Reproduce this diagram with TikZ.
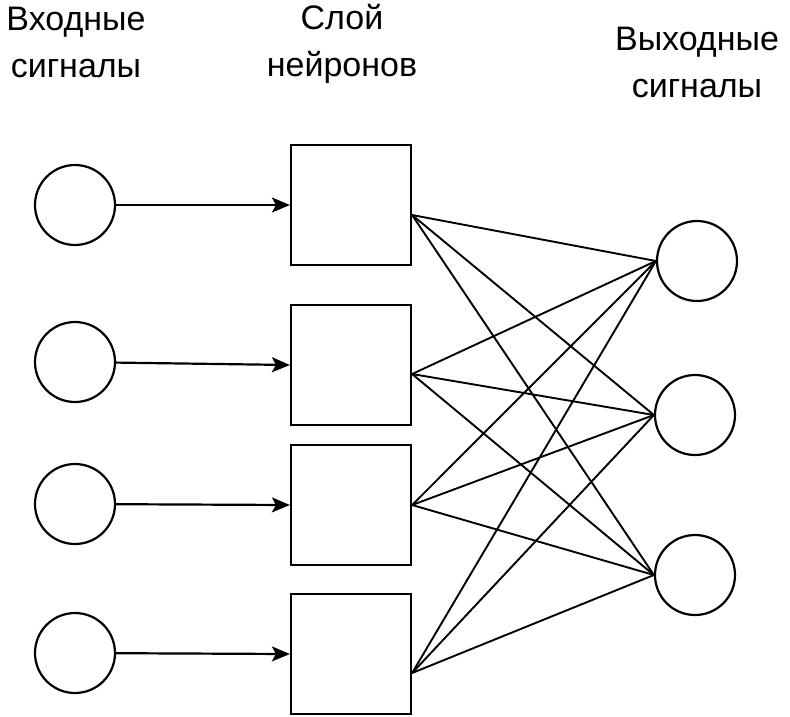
\documentclass[tikz,border=0pt]{standalone}
\usepackage{fontspec}
\setmainfont{Liberation Sans}
\usepackage{tikz}
\usetikzlibrary{arrows.meta,positioning,calc}

\tikzset{
	insig/.style={circle,draw,line width=2.2pt,minimum size=80pt,inner sep=0pt},
	neuron/.style={rectangle,draw,line width=2.2pt,minimum size=120pt,inner sep=0pt},
	outsig/.style={circle,draw,line width=2.2pt,minimum size=80pt,inner sep=0pt},
	sigarrow/.style={-{Stealth[length=18pt,width=15pt,inset=4pt]},line width=2.2pt},
	link/.style={line width=1.9pt},
	title/.style={align=center,font=\fontsize{34}{47}\selectfont}
}

\begin{document}
\begin{tikzpicture}[x=1pt,y=-1pt]
	\useasboundingbox (0,0) rectangle (790,716);
	% titles
	\node[title] (tin) at (76,42) {Входные\\сигналы};
	\node[title] (tlayer) at (342,44) {Слой\\нейронов};
	\node[title] (tout) at (697,62) {Выходные\\сигналы};
	% input signals
	\node[insig] (i1) at (75,205) {};
	\node[insig] (i2) at (75,362) {};
	\node[insig] (i3) at (75,504) {};
	\node[insig] (i4) at (75,653) {};
	% neurons
	\node[neuron] (n1) at (351,205) {};
	\node[neuron] (n2) at (351,365) {};
	\node[neuron] (n3) at (351,505) {};
	\node[neuron] (n4) at (351,654) {};
	\coordinate (s1) at ([yshift=-10pt]n1.east);
	\coordinate (s2) at ([yshift=-9pt]n2.east);
	\coordinate (s3) at (n3.east);
	\coordinate (s4) at ([yshift=-19pt]n4.east);
	% output signals
	\node[outsig] (o1) at (697,261) {};
	\node[outsig] (o2) at (695,415) {};
	\node[outsig] (o3) at (695,575) {};
	% inputs to neurons
	\draw[sigarrow] (i1) -- (n1.west);
	\draw[sigarrow] (i2) -- (n2.west);
	\draw[sigarrow] (i3) -- (n3.west);
	\draw[sigarrow] (i4) -- (n4.west);
	% neurons to outputs
	\draw[link] (s1) -- (o1.west);
	\draw[link] (s1) -- (o2.west);
	\draw[link] (s1) -- (o3.west);
	\draw[link] (s2) -- (o1.west);
	\draw[link] (s2) -- (o2.west);
	\draw[link] (s2) -- (o3.west);
	\draw[link] (s3) -- (o1.west);
	\draw[link] (s3) -- (o2.west);
	\draw[link] (s3) -- (o3.west);
	\draw[link] (s4) -- (o1.west);
	\draw[link] (s4) -- (o2.west);
	\draw[link] (s4) -- (o3.west);
\end{tikzpicture}
\end{document}
